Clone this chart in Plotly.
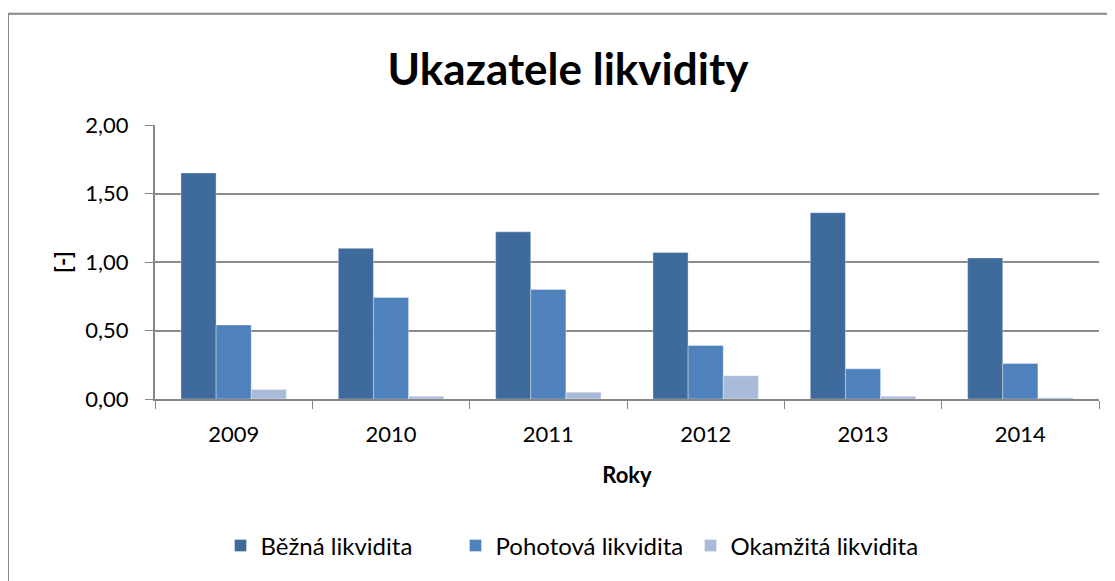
import plotly.graph_objects as go

years = ["2009", "2010", "2011", "2012", "2013", "2014"]
bezna = [1.65, 1.10, 1.22, 1.07, 1.36, 1.03]
pohotova = [0.54, 0.74, 0.80, 0.39, 0.22, 0.26]
okamzita = [0.07, 0.02, 0.05, 0.17, 0.02, 0.01]
series_names = ["Běžná likvidita", "Pohotová likvidita", "Okamžitá likvidita"]
colors = ["#3F6A9C", "#4F81BD", "#AABBDA"]
y_ticks = [0, 0.5, 1.0, 1.5, 2.0]
y_tick_text = ["0,00", "0,50", "1,00", "1,50", "2,00"]

FONT = "Lato, 'Open Sans', sans-serif"
OFF = 8  # page body margin

fig = go.Figure()
for name, vals, col in zip(series_names, [bezna, pohotova, okamzita], colors):
    fig.add_trace(go.Bar(
        x=years, y=vals, name=name,
        marker=dict(color=col, line=dict(color="rgba(255,255,255,0.35)", width=1)),
    ))

W, H = 1115 - OFF, 581 - OFF
L, R, T, B = 155 - OFF, 1099 - OFF, 125 - OFF, 401 - OFF
pw, ph = R - L, B - T

def px_x(x):
    return (x - OFF - L) / pw

def px_y(y):
    return (B - (y - OFF)) / ph

fig.update_layout(
    width=W, height=H,
    margin=dict(l=L, r=W - R, t=T, b=H - B),
    paper_bgcolor="white", plot_bgcolor="white",
    barmode="group", bargap=0.33, bargroupgap=0,
    font=dict(family=FONT, size=22, color="#000000"),
    title=dict(text="<b>Ukazatele likvidity</b>", x=px_x(568), xref="paper", xanchor="center",
               y=1 - (70 - OFF) / H, yref="container", yanchor="middle",
               font=dict(size=44, family=FONT, color="#000")),
    showlegend=True,
    legend=dict(orientation="h", x=px_x(573), xanchor="center", y=px_y(549), yanchor="middle",
                font=dict(size=24, family=FONT), itemwidth=30, traceorder="normal",
                entrywidth=190, entrywidthmode="pixels",
                bgcolor="rgba(0,0,0,0)"),
    xaxis=dict(
        type="category", tickson="boundaries", ticks="outside", ticklen=8, tickcolor="#868686",
        showline=True, linecolor="#868686", linewidth=2, showgrid=False,
        tickfont=dict(size=22, family=FONT), ticklabelstandoff=15,
        title=dict(text="<b>Roky</b>", standoff=21, font=dict(size=22, family=FONT)),
    ),
    yaxis=dict(
        range=[0, 2.0], tickvals=y_ticks, ticktext=y_tick_text,
        ticks="outside", ticklen=8, tickcolor="#868686",
        showline=True, linecolor="#868686", linewidth=2,
        showgrid=True, gridcolor="#8C8C8C", gridwidth=1.5, zeroline=False,
        tickfont=dict(size=22, family=FONT), ticklabelstandoff=12,
        title=dict(text="<b>[-]</b>", standoff=8, font=dict(size=22, family=FONT)),
    ),
    shapes=[dict(type="rect", xref="paper", yref="paper",
                 x0=px_x(8), x1=px_x(1130), y0=px_y(600), y1=px_y(13),
                 line=dict(color="#868686", width=2), fillcolor="rgba(0,0,0,0)", layer="below")],
)

fig.write_html("out.html")
